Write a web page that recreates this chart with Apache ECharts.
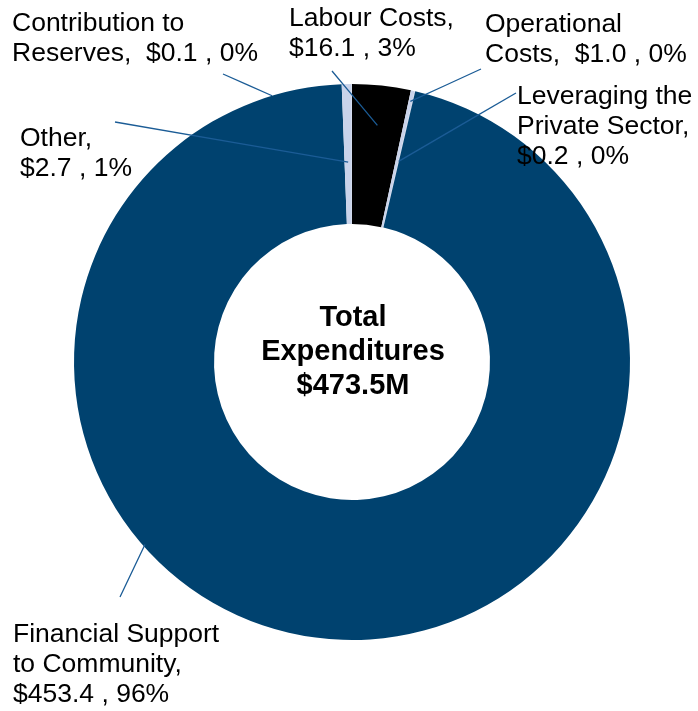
<!DOCTYPE html>
<html>
<head>
<meta charset="utf-8">
<script src="https://cdn.jsdelivr.net/npm/echarts@6/dist/echarts.min.js"></script>
<style>html,body{margin:0;padding:0;background:#fff}#c{width:698px;height:711px}</style>
</head>
<body>
<div id="c"></div>
<script>
// Data (clockwise from 12 o'clock)
const categories = ["Labour Costs", "Operational\nCosts", "Leveraging the\nPrivate Sector", "Financial Support\nto Community", "Other", "Contribution to\nReserves"];
const values = [16.1, 1.0, 0.2, 453.4, 2.7, 0.1];
const totalLabel = ["Total", "Expenditures", "$473.5M"];

// Styling / layout (not data)
const colors = ["#000000", "#C9D3EA", "#C9D3EA", "#00426F", "#C9D3EA", "#C9D3EA"];
const seps = [",\n", ",  ", ",\n", ",\n", ",\n", ",  "];
const labelPos = [[289, 4], [485, 10], [517, 82], [13, 620], [20, 124], [12, 9]];
const leaderEnd = [[332, 71], [481, 69], [516, 93], [120, 597], [115, 122], [223, 74]];
const leaderAnchor = [{ r: 238 }, { r: 267 }, { r: 206 }, { r: 276, a: 228.6 }, { r: 200 }, { r: 278, a: -16.7 }];
const CX = 352, CY = 362;

const total = values.reduce((s, v) => s + v, 0);
const midAngles = [];
values.reduce((c, v) => { midAngles.push((c + v / 2) / total * 360); return c + v; }, 0);

const base = {
  type: 'pie',
  center: [CX, CY],
  radius: [138, 278],
  startAngle: 90,
  clockwise: true,
  avoidLabelOverlap: false,
  percentPrecision: 2,
  silent: true
};

const chart = echarts.init(document.getElementById('c'));
chart.setOption({
  animation: false,
  series: [
    Object.assign({}, base, {
      z: 2,
      data: categories.map((n, i) => ({ name: n, value: values[i], itemStyle: { color: colors[i] } })),
      label: { show: false },
      labelLine: { show: false }
    }),
    Object.assign({}, base, {
      z: 5,
      data: categories.map((n, i) => ({ name: n, value: values[i], itemStyle: { color: 'rgba(0,0,0,0)' } })),
      label: {
        show: true,
        fontFamily: 'Liberation Sans, Arial, sans-serif',
        fontSize: 26.5,
        lineHeight: 30,
        color: '#000',
        formatter: p => p.name + seps[p.dataIndex] + '$' + p.value.toFixed(1) + ' , ' + Math.round(p.percent) + '%'
      },
      labelLine: { show: true, length: 10, length2: 10, lineStyle: { color: '#1B5C96', width: 1.3 } },
      labelLayout: p => {
        const i = p.dataIndex;
        const an = leaderAnchor[i];
        const ang = (an.a !== undefined ? an.a : midAngles[i]) * Math.PI / 180;
        const ax = CX + an.r * Math.sin(ang), ay = CY - an.r * Math.cos(ang);
        const [ex, ey] = leaderEnd[i];
        return {
          x: labelPos[i][0], y: labelPos[i][1], align: 'left', verticalAlign: 'top',
          labelLinePoints: [[ax, ay], [(ax + ex) / 2, (ay + ey) / 2], [ex, ey]]
        };
      }
    })
  ],
  graphic: [{
    type: 'text',
    x: 353, y: 352,
    z: 10,
    style: {
      text: totalLabel.join('\n'),
      font: 'bold 29px "Liberation Sans", Arial, sans-serif',
      lineHeight: 34,
      fill: '#000',
      align: 'center',
      verticalAlign: 'middle'
    }
  }]
});
</script>
</body>
</html>
